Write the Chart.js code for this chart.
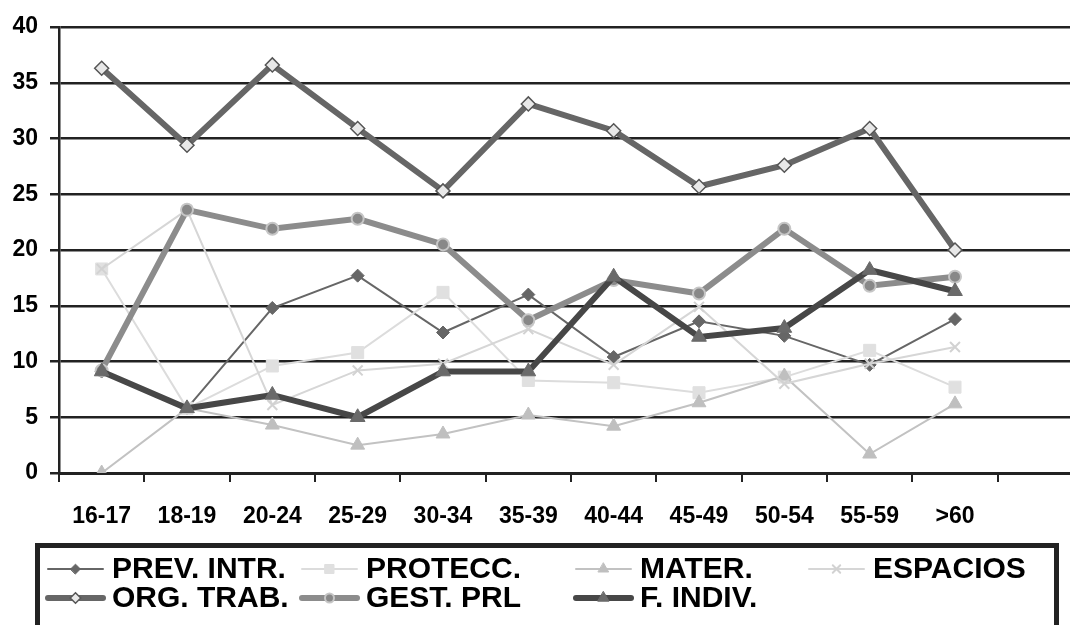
<!DOCTYPE html>
<html>
<head>
<meta charset="utf-8">
<script src="https://cdn.jsdelivr.net/npm/chart.js@4.4.0/dist/chart.umd.min.js"></script>
<style>
  html, body { margin: 0; padding: 0; background: #fff; overflow: hidden; }
  #wrap { width: 1070px; height: 625px; overflow: hidden; position: relative; }
  canvas { display: block; }
</style>
</head>
<body>
<div id="wrap"><canvas id="ageChart" width="1100" height="625"></canvas></div>
<script>
// Age groups (last slot is an empty category, like the original)
var ageGroups = ["16-17", "18-19", "20-24", "25-29", "30-34", "35-39", "40-44", "45-49", "50-54", "55-59", ">60", ""];
var yTicks = [0, 5, 10, 15, 20, 25, 30, 35, 40];

// Series values
var prevIntr = [9.1, 5.8, 14.8, 17.7, 12.6, 16.0, 10.4, 13.6, 12.3, 9.7, 13.8, null];
var protecc  = [18.3, 5.8, 9.6, 10.8, 16.2, 8.3, 8.1, 7.2, 8.6, 11.0, 7.7, null];
var mater    = [0, 5.8, 4.3, 2.5, 3.5, 5.2, 4.2, 6.3, 8.7, 1.7, 6.2, null];
var espacios = [18.3, 23.6, 6.1, 9.2, 9.8, 12.9, 9.7, 14.9, 8.0, 9.8, 11.3, null];
var orgTrab  = [36.3, 29.4, 36.6, 30.9, 25.3, 33.1, 30.7, 25.7, 27.6, 30.9, 20.0, null];
var gestPrl  = [9.2, 23.6, 21.9, 22.8, 20.5, 13.7, 17.3, 16.1, 21.9, 16.8, 17.6, null];
var fIndiv   = [9.1, 5.8, 7.0, 5.0, 9.1, 9.1, 17.6, 12.2, 13.0, 18.2, 16.3, null];

var fontFamily = "'Liberation Sans', Arial, sans-serif";

function series(label, data, line, width, style, radius, fill, border, borderW, order) {
  return {
    label: label,
    data: data,
    borderColor: line,
    borderWidth: width,
    pointStyle: style,
    pointRadius: radius,
    pointHoverRadius: radius,
    pointBackgroundColor: fill,
    pointBorderColor: border,
    pointBorderWidth: borderW,
    tension: 0,
    fill: false,
    order: order
  };
}

var datasets = [
  series("PREV. INTR.", prevIntr, "#666666", 2, "rectRot", 6.5, "#666666", "#666666", 1, 7),
  series("PROTECC.", protecc, "#dcdcdc", 2, "rect", 8.5, "#e0e0e0", "#e0e0e0", 1, 6),
  series("MATER.", mater, "#c2c2c2", 2, "triangle", 8, "#bfbfbf", "#bfbfbf", 1, 5),
  series("ESPACIOS", espacios, "#d6d6d6", 2, "crossRot", 7, "#d2d2d2", "#d2d2d2", 2, 4),
  series("ORG. TRAB.", orgTrab, "#666666", 6, "rectRot", 7, "#e8e8e8", "#555555", 1.5, 3),
  series("GEST. PRL", gestPrl, "#8c8c8c", 6, "circle", 6, "#888888", "#c6c6c6", 2, 2),
  series("F. INDIV.", fIndiv, "#474747", 6, "triangle", 8.5, "#6a6a6a", "#6a6a6a", 1, 1)
];

// Legend drawn like the boxed Excel legend under the chart
var legendTextX = [112, 366, 640, 873];
var legendRowY = [569, 598];

var boxLegend = {
  id: "boxLegend",
  afterDraw: function(chart) {
    var ctx = chart.ctx;
    ctx.save();
    ctx.strokeStyle = "#222";
    ctx.lineWidth = 5;
    ctx.strokeRect(37.5, 545.5, 1019, 110);

    chart.data.datasets.forEach(function(ds, i) {
      var row = i < 4 ? 0 : 1;
      var col = i < 4 ? i : i - 4;
      var tx = legendTextX[col];
      var y = legendRowY[row];
      var x1 = tx - 64, x2 = tx - 9;

      ctx.strokeStyle = ds.borderColor;
      ctx.lineWidth = ds.borderWidth;
      ctx.lineCap = "round";
      ctx.beginPath();
      ctx.moveTo(x1, y);
      ctx.lineTo(x2, y);
      ctx.stroke();

      ctx.fillStyle = ds.pointBackgroundColor;
      ctx.strokeStyle = ds.pointBorderColor;
      ctx.lineWidth = ds.pointBorderWidth;
      Chart.helpers.drawPoint(ctx, {
        pointStyle: ds.pointStyle,
        rotation: 0,
        radius: ds.pointRadius * 0.75,
        borderWidth: ds.pointBorderWidth
      }, (x1 + x2) / 2, y);

      ctx.fillStyle = "#000";
      ctx.font = "bold 30px " + fontFamily;
      ctx.textBaseline = "middle";
      ctx.textAlign = "left";
      ctx.fillText(ds.label, tx, y + 1);
    });
    ctx.restore();
  }
};

var canvas = document.getElementById("ageChart");
var ctx = canvas.getContext("2d");

var ageChart = new Chart(ctx, {
  type: "line",
  data: {
    labels: ageGroups,
    datasets: datasets
  },
  options: {
    responsive: false,
    animation: false,
    events: [],
    layout: { padding: { top: 27, right: 17, left: 0, bottom: 0 } },
    plugins: {
      legend: { display: false },
      tooltip: { enabled: false }
    },
    scales: {
      x: {
        type: "category",
        offset: true,
        grid: {
          offset: true,
          drawOnChartArea: false,
          drawTicks: true,
          tickLength: 9,
          color: "#222",
          lineWidth: 2
        },
        border: { display: true, color: "#222", width: 3 },
        ticks: {
          color: "#000",
          padding: 21,
          maxRotation: 0,
          autoSkip: false,
          font: { family: fontFamily, size: 23, weight: "bold" }
        },
        afterFit: function(scale) { scale.height = 152; }
      },
      y: {
        min: 0,
        max: 40,
        afterBuildTicks: function(scale) {
          scale.ticks = yTicks.map(function(v) { return { value: v }; });
        },
        grid: {
          color: "#222",
          lineWidth: 2.5,
          drawTicks: true,
          tickLength: 9
        },
        border: { display: true, color: "#222", width: 2.5 },
        ticks: {
          color: "#000",
          padding: 12,
          font: { family: fontFamily, size: 23, weight: "bold" }
        },
        afterFit: function(scale) { scale.width = 59; }
      }
    }
  },
  plugins: [boxLegend]
});
</script>
</body>
</html>
